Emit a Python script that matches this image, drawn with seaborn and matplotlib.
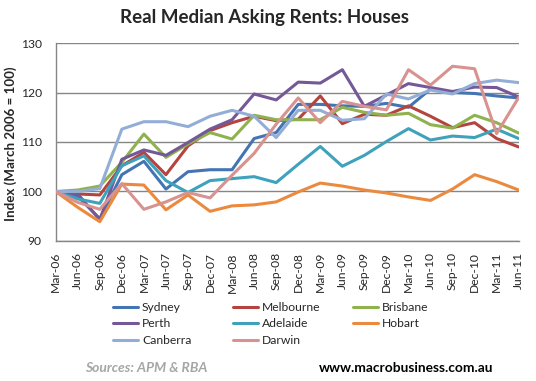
import matplotlib
matplotlib.use("Agg")
import matplotlib.pyplot as plt
import seaborn as sns
import pandas as pd

# Datos (índice, marzo 2006 = 100)
quarters = ["Mar-06", "Jun-06", "Sep-06", "Dec-06", "Mar-07", "Jun-07", "Sep-07", "Dec-07",
            "Mar-08", "Jun-08", "Sep-08", "Dec-08", "Mar-09", "Jun-09", "Sep-09", "Dec-09",
            "Mar-10", "Jun-10", "Sep-10", "Dec-10", "Mar-11", "Jun-11"]

sydney = [100, 99.0, 94.5, 103.4, 106.1, 100.5, 104.0, 104.4, 104.4, 110.7, 111.9,
          117.6, 117.6, 117.3, 117.2, 117.8, 117.0, 120.7, 120.0, 119.8, 119.3, 118.9]
melbourne = [100, 99.5, 99.3, 105.2, 107.9, 103.4, 109.2, 112.3, 113.9, 115.2, 114.3,
             114.6, 119.3, 113.7, 115.6, 115.4, 117.3, 115.2, 112.9, 113.9, 110.7, 109.0]
brisbane = [100, 100.3, 101.1, 105.9, 111.6, 106.9, 109.6, 111.9, 110.6, 115.4, 114.5,
            114.5, 114.5, 117.0, 116.0, 115.4, 115.8, 113.5, 112.8, 115.4, 113.9, 111.8]
perth = [100, 99.5, 94.3, 106.5, 108.4, 107.3, 109.9, 112.6, 114.5, 119.7, 118.5,
         122.1, 121.9, 124.6, 117.2, 119.5, 121.8, 121.0, 120.2, 121.1, 121.0, 119.1]
adelaide = [100, 98.5, 97.6, 105.2, 107.2, 102.2, 99.8, 102.2, 102.6, 103.0, 101.8,
            105.5, 109.1, 105.1, 107.3, 110.1, 112.7, 110.4, 111.2, 110.9, 112.6, 110.7]
hobart = [100, 96.8, 93.9, 101.5, 101.3, 96.3, 99.3, 96.0, 97.1, 97.3, 97.9,
          99.9, 101.7, 101.1, 100.3, 99.7, 98.9, 98.2, 100.5, 103.4, 102.0, 100.3]
canberra = [100, 100.0, 100.6, 112.6, 114.1, 114.1, 113.1, 115.2, 116.4, 115.2, 110.9,
            116.4, 116.4, 114.4, 114.7, 119.7, 118.7, 120.5, 119.7, 121.8, 122.5, 122.0]
darwin = [100, 97.8, 96.4, 101.6, 96.4, 97.9, 99.8, 98.7, 103.3, 107.7, 113.6,
          118.9, 113.9, 118.2, 117.2, 116.5, 124.6, 121.5, 125.3, 124.8, 111.7, 119.0]

cities = ["Sydney", "Melbourne", "Brisbane", "Perth", "Adelaide", "Hobart", "Canberra", "Darwin"]
series = [sydney, melbourne, brisbane, perth, adelaide, hobart, canberra, darwin]
colors = ["#4374B3", "#B4443F", "#8FB24E", "#745898", "#3FA2BC", "#EB8A3E", "#93AED6", "#D8928F"]

y_ticks = [90, 100, 110, 120, 130]

df = pd.concat(
    [pd.DataFrame({"q": range(len(quarters)), "valor": vals, "ciudad": c})
     for c, vals in zip(cities, series)],
    ignore_index=True,
)

sns.set_style("white")
plt.rcParams["font.family"] = ["Lato", "DejaVu Sans"]

fig = plt.figure(figsize=(5.36, 3.81), dpi=100)
ax = fig.add_axes([55.7 / 536, 1 - 241 / 381, 463 / 536, 198 / 381])

sns.lineplot(data=df, x="q", y="valor", hue="ciudad", palette=dict(zip(cities, colors)),
             linewidth=2.2, ax=ax, legend=False, zorder=3)

ax.set_xlim(0, len(quarters) - 1)
ax.set_ylim(90, 130)
ax.set_yticks(y_ticks)
ax.set_xticks(range(len(quarters)))
ax.set_xticklabels(quarters, rotation=90, fontsize=8.7)
ax.tick_params(axis="y", labelsize=8.7, length=5, color="#868686", pad=5, direction="out")
ax.tick_params(axis="x", length=5, color="#868686", pad=3, direction="out")
ax.grid(axis="y", color="#868686", linewidth=1)
ax.set_axisbelow(True)
for s in ["top", "right"]:
    ax.spines[s].set_visible(False)
for s in ["left", "bottom"]:
    ax.spines[s].set_color("#868686")
    ax.spines[s].set_linewidth(1)
ax.set_xlabel("")
ax.set_ylabel("Index (March 2006 = 100)", fontsize=9.6, fontweight="bold", labelpad=4)
ax.yaxis.set_label_coords(-39 / 463, 0.49)

fig.suptitle("Real Median Asking Rents: Houses", x=264 / 536, y=1 - 17 / 381,
             va="center", fontsize=13.5, fontweight="bold")

# Leyenda: una columna por bloque, con el orden por filas del original
col_x = [113, 233, 353]
col_idx = [[0, 3, 6], [1, 4, 7], [2, 5]]
for cx, idx in zip(col_x, col_idx):
    handles = [plt.Line2D([], [], color=colors[i], linewidth=2.2) for i in idx]
    fig.legend(handles, [cities[i] for i in idx], loc="upper left",
               bbox_to_anchor=(cx / 536, 1 - 302 / 381), frameon=False, fontsize=8.7,
               handlelength=2.1, handletextpad=0.3, labelspacing=0.45, borderpad=0,
               borderaxespad=0)

fig.text(85 / 536, 1 - 368 / 381, "Sources: APM & RBA", color="#A6A6A6", fontsize=10,
         fontweight="bold", style="italic", va="center", ha="left")
fig.text(493 / 536, 1 - 368 / 381, "www.macrobusiness.com.au", color="black", fontsize=9.9,
         fontweight="bold", va="center", ha="right")

fig.savefig("out.png", dpi=100)
